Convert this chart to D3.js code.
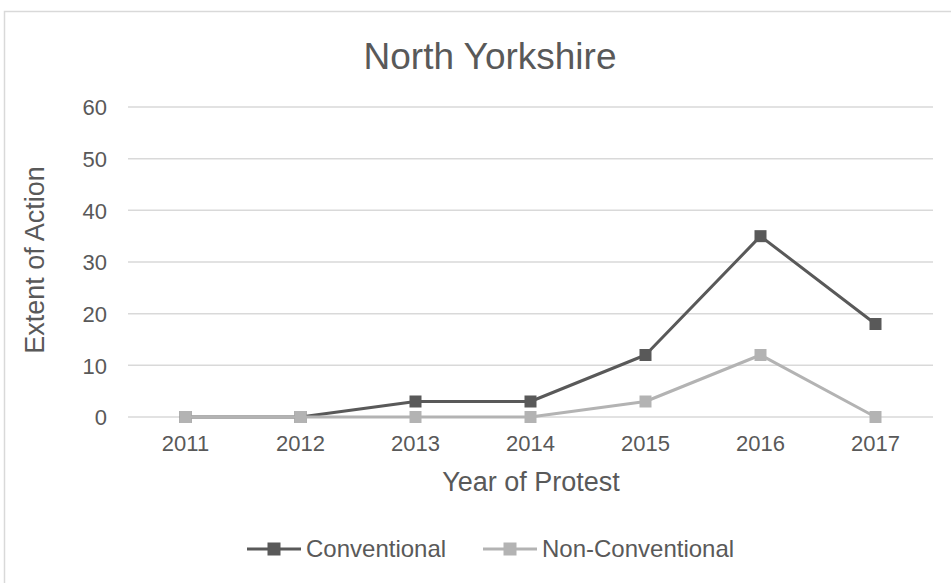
<!DOCTYPE html>
<html><head><meta charset="utf-8">
<script src="https://cdn.jsdelivr.net/npm/d3@7"></script>
<style>body{margin:0;background:#fff;font-family:"Liberation Sans",Arial,sans-serif}</style>
</head><body><svg id="c" width="951" height="583"></svg>
<script>
const years = ["2011","2012","2013","2014","2015","2016","2017"];
const conventional = [0,0,3,3,12,35,18];
const nonConventional = [0,0,0,0,3,12,0];
const yTicks = [0,10,20,30,40,50,60];
const seriesNames = ["Conventional","Non-Conventional"];
const seriesColors = ["#595959","#b3b3b3"];

const svg = d3.select("#c");
const txt = "#595959";
const ff = "Liberation Sans, Arial, sans-serif";
svg.append("rect").attr("x",4.5).attr("y",11.5).attr("width",960).attr("height",600)
  .attr("fill","#fff").attr("stroke","#d9d9d9").attr("stroke-width",1.5);

const x = d3.scaleBand().domain(years).range([128,933]);
const y = d3.scaleLinear().domain([0,60]).range([417,107]);

svg.append("g").selectAll("line").data(yTicks).join("line")
  .attr("x1",128).attr("x2",933).attr("y1",d=>y(d)).attr("y2",d=>y(d))
  .attr("stroke","#d9d9d9").attr("stroke-width",1.5);

const yAxis = svg.append("g").attr("transform","translate(107,0)")
  .call(d3.axisLeft(y).tickValues(yTicks).tickSize(0).tickPadding(0));
yAxis.select(".domain").remove();
yAxis.selectAll("text").attr("font-size",22).attr("fill",txt).attr("font-family",ff).attr("dy","0.35em");

const xAxis = svg.append("g").attr("transform","translate(0,417)")
  .call(d3.axisBottom(x).tickSize(0).tickPadding(0));
xAxis.select(".domain").remove();
xAxis.selectAll("text").attr("font-size",22).attr("fill",txt).attr("font-family",ff).attr("dy",0).attr("y",34);

const line = d3.line().x((d,i)=>x(years[i])+x.bandwidth()/2).y(d=>y(d));
[conventional, nonConventional].forEach((data,k)=>{
  const c = seriesColors[k];
  svg.append("path").datum(data).attr("d",line).attr("fill","none")
    .attr("stroke",c).attr("stroke-width",3).attr("stroke-linejoin","round");
  svg.append("g").selectAll("rect").data(data).join("rect")
    .attr("x",(d,i)=>x(years[i])+x.bandwidth()/2-6).attr("y",d=>y(d)-6)
    .attr("width",12).attr("height",12).attr("fill",c);
});

svg.append("text").attr("x",490).attr("y",69).attr("text-anchor","middle")
  .attr("font-size",37).attr("font-family",ff).attr("fill",txt).text("North Yorkshire");
svg.append("text").attr("transform","translate(44,260) rotate(-90)").attr("text-anchor","middle")
  .attr("font-size",27).attr("font-family",ff).attr("fill",txt).text("Extent of Action");
svg.append("text").attr("x",531).attr("y",491).attr("text-anchor","middle")
  .attr("font-size",27).attr("font-family",ff).attr("fill",txt).text("Year of Protest");

const leg = [{x:247},{x:483}];
seriesNames.forEach((n,i)=>{
  const lx = leg[i].x, ly = 549;
  svg.append("line").attr("x1",lx).attr("x2",lx+54).attr("y1",ly).attr("y2",ly)
    .attr("stroke",seriesColors[i]).attr("stroke-width",3);
  svg.append("rect").attr("x",lx+20.5).attr("y",ly-6.5).attr("width",13).attr("height",13).attr("fill",seriesColors[i]);
  svg.append("text").attr("x",lx+59).attr("y",ly+8).attr("font-size",24).attr("font-family",ff).attr("fill",txt).text(n);
});
</script></body></html>
